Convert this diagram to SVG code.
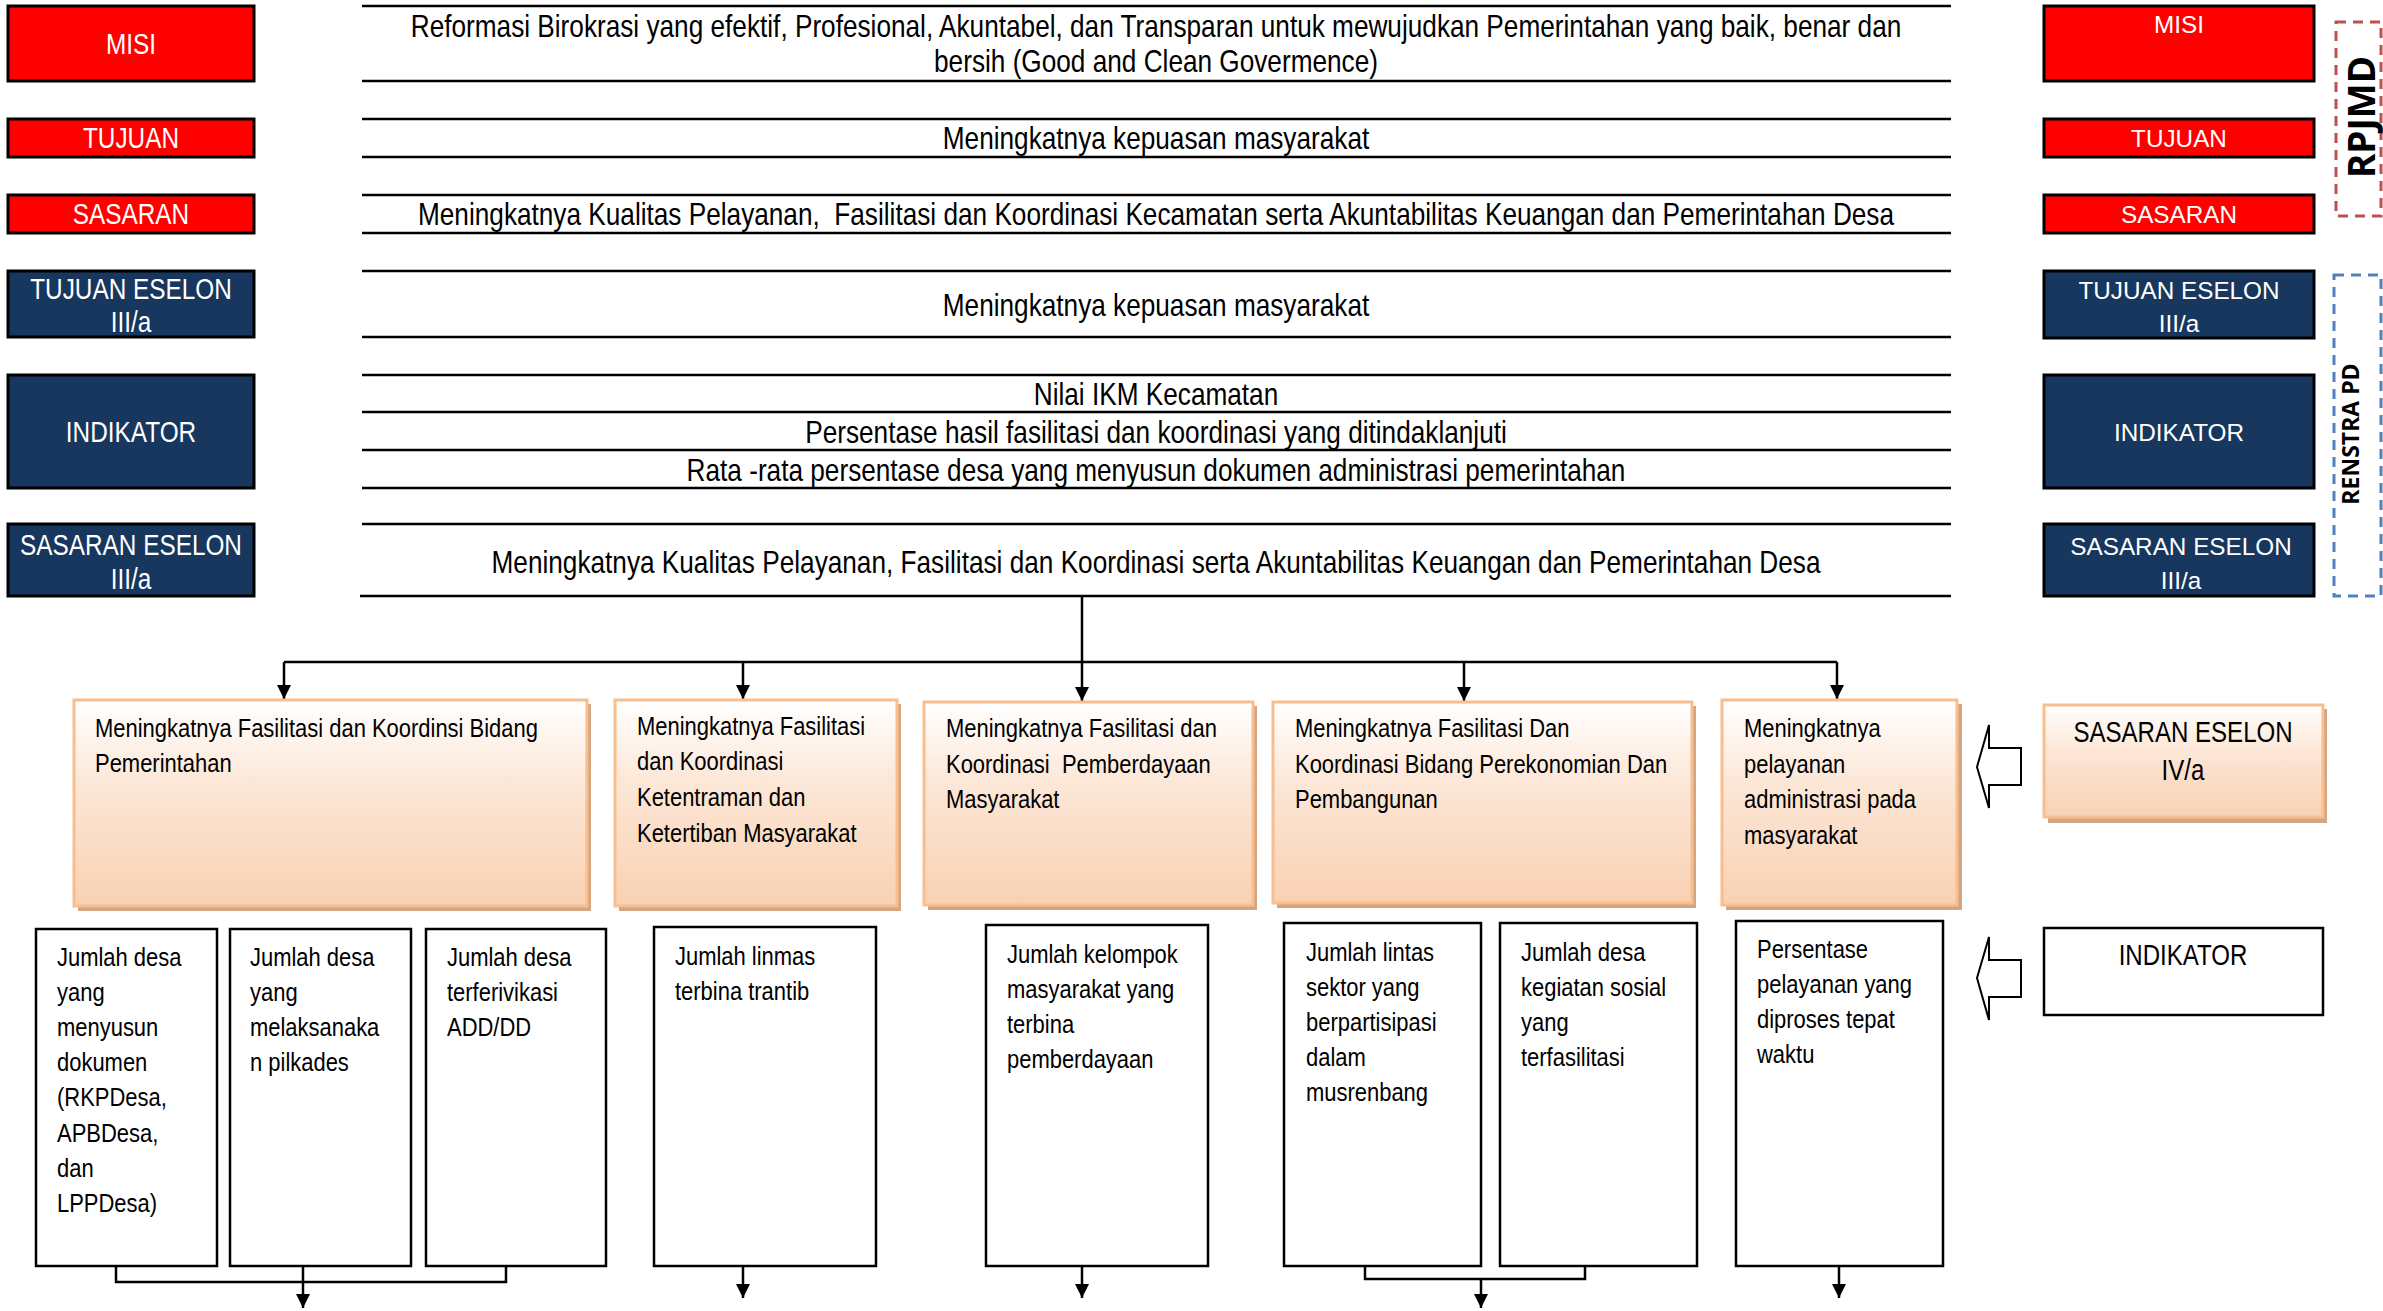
<svg xmlns="http://www.w3.org/2000/svg" width="2383" height="1311" viewBox="0 0 2383 1311">
<defs>
<linearGradient id="peach" x1="0" y1="0" x2="0" y2="1">
<stop offset="0" stop-color="#FFFFFF"/>
<stop offset="0.4" stop-color="#FCE7D7"/>
<stop offset="1" stop-color="#F9D1B2"/>
</linearGradient>
<marker id="ah" markerWidth="14" markerHeight="14" refX="14" refY="7" orient="auto" markerUnits="userSpaceOnUse" viewBox="0 0 14 14">
<path d="M0,0 L14,7 L0,14 Z" fill="#000"/>
</marker>
<style>
.n{font-family:"Liberation Sans",Arial,sans-serif;}
.r{font-family:"Liberation Sans",Arial,sans-serif;}
.red{fill:#FF0000;stroke:#000;stroke-width:3;}
.navy{fill:#17375E;stroke:#000;stroke-width:3;}
.lt{fill:#FFFFFF;font-size:29px;text-anchor:middle;}
.rt{fill:#FFFFFF;font-size:24.3px;text-anchor:middle;}
.hl{stroke:#000;stroke-width:2.5;fill:none;}
.mt{fill:#000;font-size:31px;text-anchor:middle;}
.pb{fill:url(#peach);stroke:#F9BE8E;stroke-width:3;}
.sh{fill:#D2A583;}
.ib{fill:#FFFFFF;stroke:#000;stroke-width:2.5;}
.bt{fill:#000;font-size:26px;}
.cn{stroke:#000;stroke-width:2.5;fill:none;}
.ha{fill:#FFFFFF;stroke:#000;stroke-width:2;}
.k{fill:#000;}
</style>
</defs>
<rect width="2383" height="1311" fill="#FFFFFF"/>

<!-- left label column -->
<g id="L-misi"><rect class="red" x="8" y="6" width="246" height="75"/><g transform="translate(131,0) scale(0.84,1)"><text class="n lt" x="0" y="54">MISI</text></g></g>
<g id="L-tujuan"><rect class="red" x="8" y="119" width="246" height="38"/><g transform="translate(131,0) scale(0.84,1)"><text class="n lt" x="0" y="148">TUJUAN</text></g></g>
<g id="L-sasaran"><rect class="red" x="8" y="195" width="246" height="38"/><g transform="translate(131,0) scale(0.84,1)"><text class="n lt" x="0" y="224">SASARAN</text></g></g>
<g id="L-tujuan-eselon"><rect class="navy" x="8" y="271" width="246" height="66"/><g transform="translate(131,0) scale(0.84,1)"><text class="n lt" x="0" y="299">TUJUAN ESELON</text><text class="n lt" x="0" y="332">III/a</text></g></g>
<g id="L-indikator"><rect class="navy" x="8" y="375" width="246" height="113"/><g transform="translate(131,0) scale(0.84,1)"><text class="n lt" x="0" y="442">INDIKATOR</text></g></g>
<g id="L-sasaran-eselon"><rect class="navy" x="8" y="524" width="246" height="72"/><g transform="translate(131,0) scale(0.84,1)"><text class="n lt" x="0" y="555">SASARAN ESELON</text><text class="n lt" x="0" y="589">III/a</text></g></g>

<!-- middle statements -->
<g id="M-misi"><line class="hl" x1="362" y1="6" x2="1951" y2="6"/><line class="hl" x1="362" y1="81" x2="1951" y2="81"/>
<g transform="translate(1156,0) scale(0.845,1)"><text class="n mt" x="0" y="37">Reformasi Birokrasi yang efektif, Profesional, Akuntabel, dan Transparan untuk mewujudkan Pemerintahan yang baik, benar dan</text>
<text class="n mt" x="0" y="72">bersih (Good and Clean Govermence)</text></g></g>
<g id="M-tujuan"><line class="hl" x1="362" y1="119" x2="1951" y2="119"/><line class="hl" x1="362" y1="157" x2="1951" y2="157"/>
<g transform="translate(1156,0) scale(0.845,1)"><text class="n mt" x="0" y="149">Meningkatnya kepuasan masyarakat</text></g></g>
<g id="M-sasaran"><line class="hl" x1="362" y1="195" x2="1951" y2="195"/><line class="hl" x1="362" y1="233" x2="1951" y2="233"/>
<g transform="translate(1156,0) scale(0.845,1)"><text class="n mt" x="0" y="225" xml:space="preserve">Meningkatnya Kualitas Pelayanan,  Fasilitasi dan Koordinasi Kecamatan serta Akuntabilitas Keuangan dan Pemerintahan Desa</text></g></g>
<g id="M-tujuan-eselon"><line class="hl" x1="362" y1="271" x2="1951" y2="271"/><line class="hl" x1="362" y1="337" x2="1951" y2="337"/>
<g transform="translate(1156,0) scale(0.845,1)"><text class="n mt" x="0" y="316">Meningkatnya kepuasan masyarakat</text></g></g>
<g id="M-indikator"><line class="hl" x1="362" y1="375" x2="1951" y2="375"/><line class="hl" x1="362" y1="412" x2="1951" y2="412"/><line class="hl" x1="362" y1="450" x2="1951" y2="450"/><line class="hl" x1="362" y1="488" x2="1951" y2="488"/>
<g transform="translate(1156,0) scale(0.845,1)"><text class="n mt" x="0" y="405">Nilai IKM Kecamatan</text>
<text class="n mt" x="0" y="443">Persentase hasil fasilitasi dan koordinasi yang ditindaklanjuti</text>
<text class="n mt" x="0" y="481">Rata -rata persentase desa yang menyusun dokumen administrasi pemerintahan</text></g></g>
<g id="M-sasaran-eselon"><line class="hl" x1="362" y1="524" x2="1951" y2="524"/><line class="hl" x1="360" y1="596" x2="1951" y2="596"/>
<g transform="translate(1156,0) scale(0.845,1)"><text class="n mt" x="0" y="573">Meningkatnya Kualitas Pelayanan, Fasilitasi dan Koordinasi serta Akuntabilitas Keuangan dan Pemerintahan Desa</text></g></g>

<!-- right label column -->
<g id="R-misi"><rect class="red" x="2044" y="6" width="270" height="75"/><text class="r rt" x="2179" y="33">MISI</text></g>
<g id="R-tujuan"><rect class="red" x="2044" y="119" width="270" height="38"/><text class="r rt" x="2179" y="147">TUJUAN</text></g>
<g id="R-sasaran"><rect class="red" x="2044" y="195" width="270" height="38"/><text class="r rt" x="2179" y="223">SASARAN</text></g>
<g id="R-tujuan-eselon"><rect class="navy" x="2044" y="271" width="270" height="67"/><text class="r rt" x="2179" y="299">TUJUAN ESELON</text><text class="r rt" x="2179" y="332">III/a</text></g>
<g id="R-indikator"><rect class="navy" x="2044" y="375" width="270" height="113"/><text class="r rt" x="2179" y="441">INDIKATOR</text></g>
<g id="R-sasaran-eselon"><rect class="navy" x="2044" y="524" width="270" height="72"/><text class="r rt" x="2181" y="555">SASARAN ESELON</text><text class="r rt" x="2181" y="589">III/a</text></g>

<g id="rpjmd"><rect x="2336" y="22" width="45" height="194" fill="none" stroke="#C0504D" stroke-width="3" stroke-dasharray="10,7"/>
<text transform="translate(2375,117) rotate(-90)" text-anchor="middle" font-family="'Open Sans',sans-serif" font-weight="bold" font-size="37" fill="#000">RPJMD</text></g>
<g id="renstra"><rect x="2334" y="275" width="47" height="321" fill="none" stroke="#4F81BD" stroke-width="3" stroke-dasharray="10,7"/>
<text transform="translate(2359,434) rotate(-90)" text-anchor="middle" font-family="'Open Sans',sans-serif" font-weight="bold" font-size="23" fill="#000">RENSTRA PD</text></g>

<!-- connectors -->
<g id="connectors">
<path class="cn" d="M1082,596 L1082,662"/>
<path class="cn" d="M284,662 L1837,662"/>
<path class="cn" d="M284,662 L284,699" marker-end="url(#ah)"/>
<path class="cn" d="M743,662 L743,699" marker-end="url(#ah)"/>
<path class="cn" d="M1082,662 L1082,701" marker-end="url(#ah)"/>
<path class="cn" d="M1464,662 L1464,701" marker-end="url(#ah)"/>
<path class="cn" d="M1837,662 L1837,699" marker-end="url(#ah)"/>
<path class="cn" d="M116,1266 L116,1282 L506,1282 L506,1266"/>
<path class="cn" d="M303,1266 L303,1308" marker-end="url(#ah)"/>
<path class="cn" d="M743,1266 L743,1298" marker-end="url(#ah)"/>
<path class="cn" d="M1082,1266 L1082,1298" marker-end="url(#ah)"/>
<path class="cn" d="M1365,1266 L1365,1279 L1585,1279 L1585,1266"/>
<path class="cn" d="M1481,1279 L1481,1308" marker-end="url(#ah)"/>
<path class="cn" d="M1839,1266 L1839,1298" marker-end="url(#ah)"/>
</g>

<!-- sasaran eselon IV/a boxes -->
<g id="S1"><rect class="sh" x="78" y="704" width="513" height="207"/><rect class="pb" x="74" y="700" width="513" height="206"/>
<g transform="translate(95,0) scale(0.845,1)"><text class="n bt" x="0" y="737">Meningkatnya Fasilitasi dan Koordinsi Bidang</text><text class="n bt" x="0" y="772">Pemerintahan</text></g></g>
<g id="S2"><rect class="sh" x="619" y="704" width="282" height="207"/><rect class="pb" x="615" y="700" width="282" height="206"/>
<g transform="translate(637,0) scale(0.845,1)"><text class="n bt" x="0" y="735">Meningkatnya Fasilitasi</text><text class="n bt" x="0" y="770">dan Koordinasi</text><text class="n bt" x="0" y="806">Ketentraman dan</text><text class="n bt" x="0" y="842">Ketertiban Masyarakat</text></g></g>
<g id="S3"><rect class="sh" x="928" y="706" width="329" height="204"/><rect class="pb" x="924" y="702" width="329" height="203"/>
<g transform="translate(946,0) scale(0.845,1)"><text class="n bt" x="0" y="737">Meningkatnya Fasilitasi dan</text><text class="n bt" x="0" y="773" xml:space="preserve">Koordinasi  Pemberdayaan</text><text class="n bt" x="0" y="808">Masyarakat</text></g></g>
<g id="S4"><rect class="sh" x="1277" y="706" width="419" height="202"/><rect class="pb" x="1273" y="702" width="419" height="201"/>
<g transform="translate(1295,0) scale(0.845,1)"><text class="n bt" x="0" y="737">Meningkatnya Fasilitasi Dan</text><text class="n bt" x="0" y="773">Koordinasi Bidang Perekonomian Dan</text><text class="n bt" x="0" y="808">Pembangunan</text></g></g>
<g id="S5"><rect class="sh" x="1726" y="704" width="236" height="206"/><rect class="pb" x="1722" y="700" width="235" height="205"/>
<g transform="translate(1744,0) scale(0.845,1)"><text class="n bt" x="0" y="737">Meningkatnya</text><text class="n bt" x="0" y="773">pelayanan</text><text class="n bt" x="0" y="808">administrasi pada</text><text class="n bt" x="0" y="844">masyarakat</text></g></g>

<!-- indicator boxes -->
<g id="I1a"><rect class="ib" x="36" y="929" width="181" height="337"/>
<g transform="translate(57,4) scale(0.845,1)"><text class="n bt" x="0" y="962">Jumlah desa</text><text class="n bt" x="0" y="997">yang</text><text class="n bt" x="0" y="1032">menyusun</text><text class="n bt" x="0" y="1067">dokumen</text><text class="n bt" x="0" y="1102">(RKPDesa,</text><text class="n bt" x="0" y="1138">APBDesa,</text><text class="n bt" x="0" y="1173">dan</text><text class="n bt" x="0" y="1208">LPPDesa)</text></g></g>
<g id="I1b"><rect class="ib" x="230" y="929" width="181" height="337"/>
<g transform="translate(250,4) scale(0.845,1)"><text class="n bt" x="0" y="962">Jumlah desa</text><text class="n bt" x="0" y="997">yang</text><text class="n bt" x="0" y="1032">melaksanaka</text><text class="n bt" x="0" y="1067">n pilkades</text></g></g>
<g id="I1c"><rect class="ib" x="426" y="929" width="180" height="337"/>
<g transform="translate(447,4) scale(0.845,1)"><text class="n bt" x="0" y="962">Jumlah desa</text><text class="n bt" x="0" y="997">terferivikasi</text><text class="n bt" x="0" y="1032">ADD/DD</text></g></g>
<g id="I2"><rect class="ib" x="654" y="927" width="222" height="339"/>
<g transform="translate(675,3) scale(0.845,1)"><text class="n bt" x="0" y="962">Jumlah linmas</text><text class="n bt" x="0" y="997">terbina trantib</text></g></g>
<g id="I3"><rect class="ib" x="986" y="925" width="222" height="341"/>
<g transform="translate(1007,3) scale(0.845,1)"><text class="n bt" x="0" y="960">Jumlah kelompok</text><text class="n bt" x="0" y="995">masyarakat yang</text><text class="n bt" x="0" y="1030">terbina</text><text class="n bt" x="0" y="1065">pemberdayaan</text></g></g>
<g id="I4a"><rect class="ib" x="1284" y="923" width="197" height="343"/>
<g transform="translate(1306,3) scale(0.845,1)"><text class="n bt" x="0" y="958">Jumlah lintas</text><text class="n bt" x="0" y="993">sektor yang</text><text class="n bt" x="0" y="1028">berpartisipasi</text><text class="n bt" x="0" y="1063">dalam</text><text class="n bt" x="0" y="1098">musrenbang</text></g></g>
<g id="I4b"><rect class="ib" x="1500" y="923" width="197" height="343"/>
<g transform="translate(1521,3) scale(0.845,1)"><text class="n bt" x="0" y="958">Jumlah desa</text><text class="n bt" x="0" y="993">kegiatan sosial</text><text class="n bt" x="0" y="1028">yang</text><text class="n bt" x="0" y="1063">terfasilitasi</text></g></g>
<g id="I5"><rect class="ib" x="1736" y="921" width="207" height="345"/>
<g transform="translate(1757,3) scale(0.845,1)"><text class="n bt" x="0" y="955">Persentase</text><text class="n bt" x="0" y="990">pelayanan yang</text><text class="n bt" x="0" y="1025">diproses tepat</text><text class="n bt" x="0" y="1060">waktu</text></g></g>

<!-- right legend -->
<g id="legend-sasaran-iv"><rect class="sh" x="2048" y="709" width="279" height="114"/><rect class="pb" x="2044" y="705" width="279" height="112"/>
<g transform="translate(2183,0) scale(0.83,1)"><text class="n lt k" x="0" y="742">SASARAN ESELON</text><text class="n lt k" x="0" y="780">IV/a</text></g></g>
<g id="legend-arrow-1"><path class="ha" d="M1977,767 L1989,725 L1989,748 L2021,748 L2021,785 L1989,785 L1989,808 Z"/></g>
<g id="legend-indikator"><rect class="ib" x="2044" y="928" width="279" height="87"/>
<g transform="translate(2183,0) scale(0.83,1)"><text class="n lt k" x="0" y="965">INDIKATOR</text></g></g>
<g id="legend-arrow-2"><path class="ha" d="M1977,978 L1989,937 L1989,960 L2021,960 L2021,997 L1989,997 L1989,1020 Z"/></g>
</svg>
